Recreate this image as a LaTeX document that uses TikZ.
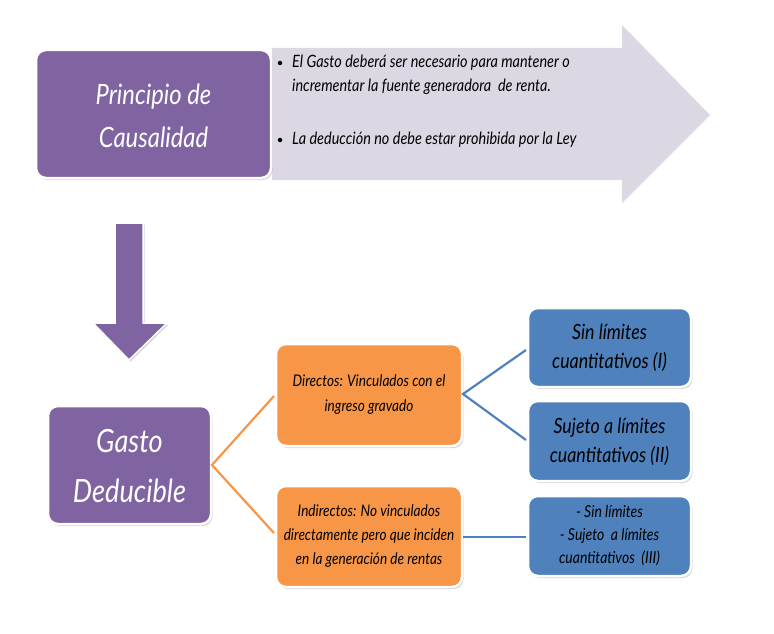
\documentclass[tikz,border=0pt]{standalone}
\usepackage{fontspec}
\setmainfont{Lato}[ItalicFeatures={FakeStretch=0.85}]
\usetikzlibrary{shadows}
\definecolor{cpurple}{HTML}{8064A2}
\definecolor{corange}{HTML}{F79646}
\definecolor{cblue}{HTML}{4F81BD}
\definecolor{clav}{HTML}{DDD7E4}
\tikzset{
  box/.style={draw=white, line width=2.5pt, rounded corners=10pt, inner sep=0pt,
    drop shadow={shadow xshift=1.5pt, shadow yshift=-2pt, opacity=0.35, fill=gray}},
  txt/.style={inner sep=0pt, align=center, font=\itshape},
  dot/.style={circle, fill=black, inner sep=0pt, minimum size=4.5pt},
  conn/.style={line width=2.2pt},
}
\begin{document}
\begin{tikzpicture}[x=1pt,y=-1pt]
\useasboundingbox (0,0) rectangle (774,634);
% big lavender arrow
\fill[clav] (272,48) -- (622,48) -- (622,25) -- (710,115) -- (622,203) -- (622,180) -- (272,180) -- cycle;
% principio box
\path[box, fill=cpurple] (36,50) rectangle (271,178);
\node[txt, text=white, font=\itshape\fontsize{28}{43}\selectfont] (pc) at (153.5,116) {Principio de\\Causalidad};
% bullets
\node[dot] (d1) at (280,63) {};
\node[txt, anchor=west, align=left, font=\itshape\fontsize{17}{24}\selectfont] (b1) at (292,75) {El Gasto deberá ser necesario para mantener o\\incrementar la fuente generadora\ \ de renta.};
\node[dot] (d2) at (280,140) {};
\node[txt, anchor=west, align=left, font=\itshape\fontsize{17}{24}\selectfont] (b2) at (292,140) {La deducción no debe estar prohibida por la Ley};
% down arrow
\path[draw=white, line width=1.5pt, fill=cpurple,
  drop shadow={shadow xshift=1.5pt, shadow yshift=-1.5pt, opacity=0.35, fill=gray}]
  (115,223) -- (143,223) -- (143,323) -- (167,323) -- (129,360) -- (93,323) -- (115,323) -- cycle;
% gasto deducible
\path[box, fill=cpurple] (48,406) rectangle (211,524);
\node[txt, text=white, font=\itshape\fontsize{32}{50}\selectfont] (gd) at (129.5,466) {Gasto\\Deducible};
\coordinate (gdr) at (212,465);
% orange boxes
\path[box, fill=corange] (276,344) rectangle (462,446);
\node[txt, font=\itshape\fontsize{16}{25}\selectfont] (dir) at (369,395) {Directos: Vinculados con el\\ingreso gravado};
\path[box, fill=corange] (276,486) rectangle (462,587);
\node[txt, font=\itshape\fontsize{16}{24}\selectfont] (ind) at (369,536) {Indirectos: No vinculados\\directamente pero que inciden\\en la generación de rentas};
\coordinate (dirl) at (274,396);
\coordinate (indl) at (274,533);
\coordinate (dirr) at (463,394);
\coordinate (indr) at (463,537);
\draw[conn, corange] (dirl) -- (gdr) -- (indl);
% blue boxes
\path[box, fill=cblue] (528,308) rectangle (691,387);
\node[txt, font=\itshape\fontsize{21}{29}\selectfont] (s1) at (609.5,348) {Sin límites\\cuantitativos (I)};
\path[box, fill=cblue] (528,401) rectangle (691,481);
\node[txt, font=\itshape\fontsize{21}{29}\selectfont] (s2) at (609.5,442) {Sujeto a límites\\cuantitativos (II)};
\path[box, fill=cblue] (528,496) rectangle (691,576);
\node[txt, font=\itshape\fontsize{16.5}{23}\selectfont] (s3) at (609.5,536) {- Sin límites\\- Sujeto\ \ a límites\\cuantitativos\ \ (III)};
\coordinate (s1l) at (526,350);
\coordinate (s2l) at (526,440);
\coordinate (s3l) at (526,537);
\draw[conn, cblue] (s1l) -- (dirr) -- (s2l);
\draw[conn, cblue] (indr) -- (s3l);
\end{tikzpicture}
\end{document}
